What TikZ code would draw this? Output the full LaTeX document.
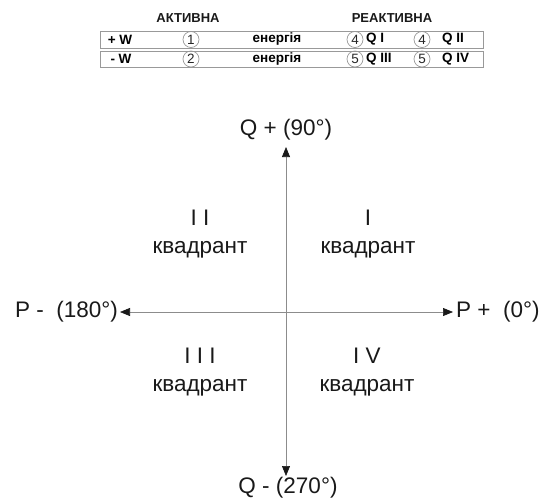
\documentclass[tikz,border=0pt]{standalone}
\usepackage{fontspec}
\setmainfont{Liberation Sans}
\usetikzlibrary{arrows.meta}
\begin{document}
\begin{tikzpicture}[x=1pt,y=-1pt,
  big/.style={font=\fontsize{22.5}{28}\selectfont, inner sep=0pt, text=black!90},
  quad/.style={big, align=center},
  hdr/.style={font=\fontsize{13}{14}\selectfont\bfseries, inner sep=0pt, text=black!90},
  cell/.style={font=\fontsize{13.5}{14}\selectfont\bfseries, inner sep=0pt, text=black},
  numc/.style={circle, draw=black!40, line width=0.7pt, minimum size=16pt, inner sep=0pt, font=\fontsize{13.5}{14}\selectfont, text=black!85},
  rowbox/.style={draw=black!40, line width=0.8pt},
  axis/.style={draw=black!45, line width=0.7pt, {Triangle[length=10pt,width=8pt,black!90]}-{Triangle[length=10pt,width=8pt,black!90]}}
]
\useasboundingbox (0,0) rectangle (546,501);
% table
\node[hdr] (hA) at (188,18) {АКТИВНА};
\node[hdr] (hR) at (392,18) {РЕАКТИВНА};
\draw[rowbox] (100,31) rectangle (483,48);
\draw[rowbox] (100,51) rectangle (483,67);
\node[cell] (w1) at (120,39.5) {+ W};
\node[numc] (c1) at (191,39.5) {1};
\node[cell] (e1) at (277,39.5) {енергія};
\node[numc] (c4a) at (355,39.5) {4};
\node[cell, anchor=west] (q1) at (366,39.5) {Q I};
\node[numc] (c4b) at (422,39.5) {4};
\node[cell, anchor=west] (q2) at (442,39.5) {Q II};
\node[cell] (w2) at (121,59) {- W};
\node[numc] (c2) at (191,59) {2};
\node[cell] (e2) at (277,59) {енергія};
\node[numc] (c5a) at (355,59) {5};
\node[cell, anchor=west] (q3) at (366,59) {Q III};
\node[numc] (c5b) at (422,59) {5};
\node[cell, anchor=west] (q4) at (442,59) {Q IV};
% axes
\coordinate (qt) at (286,147);
\coordinate (qb) at (286,476);
\coordinate (pl) at (120,312);
\coordinate (pr) at (453,312);
\draw[axis] (qt) -- (qb);
\draw[axis] (pl) -- (pr);
\node[big] (qplus) at (286,130) {Q + (90°)};
\node[big] (qminus) at (288,488) {Q - (270°)};
\node[big, anchor=east] (pminus) at (118,312) {P -~~(180°)};
\node[big, anchor=west] (pplus) at (456,312) {P +~~(0°)};
% quadrants
\node[quad] (Q2) at (200,234) {I I\\квадрант};
\node[quad] (Q1) at (368,234) {I\\квадрант};
\node[quad] (Q3) at (200,372) {I I I\\квадрант};
\node[quad] (Q4) at (367,372) {I V\\квадрант};
\end{tikzpicture}
\end{document}
